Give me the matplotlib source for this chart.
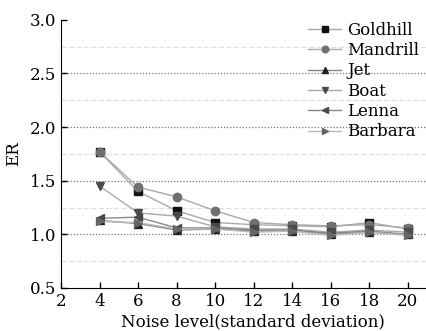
import matplotlib.pyplot as plt
import numpy as np

plt.rcParams['font.family'] = ['DejaVu Serif']

noise = [4, 6, 8, 10, 12, 14, 16, 18, 20]
goldhill = [1.77, 1.40, 1.22, 1.11, 1.09, 1.08, 1.07, 1.11, 1.05]
mandrill = [1.77, 1.44, 1.35, 1.22, 1.11, 1.09, 1.08, 1.09, 1.06]
jet = [1.13, 1.10, 1.04, 1.05, 1.03, 1.03, 1.00, 1.02, 1.00]
boat = [1.45, 1.20, 1.17, 1.07, 1.05, 1.05, 1.02, 1.04, 1.02]
lenna = [1.15, 1.16, 1.06, 1.06, 1.04, 1.04, 1.01, 1.03, 1.00]
barbara = [1.12, 1.11, 1.05, 1.05, 1.02, 1.03, 0.99, 1.02, 0.99]

series = [
    ('Goldhill', goldhill, 's', '#111111', '#aaaaaa'),
    ('Mandrill', mandrill, 'o', '#707070', '#aaaaaa'),
    ('Jet', jet, '^', '#222222', '#888888'),
    ('Boat', boat, 'v', '#4a4a4a', '#aaaaaa'),
    ('Lenna', lenna, '<', '#4a4a4a', '#888888'),
    ('Barbara', barbara, '>', '#666666', '#bbbbbb'),
]

fig = plt.figure(figsize=(4.27, 3.31), dpi=100)
ax = fig.add_axes([0.143, 0.130, 0.857, 0.810])

for yv in [0.75, 1.25, 1.75, 2.25, 2.75]:
    ax.axhline(yv, color='#e0e0e0', lw=0.9, ls=(0, (4, 2)), zorder=0)
for yv in [1.0, 1.5, 2.0, 2.5]:
    ax.axhline(yv, color='#777777', lw=0.9, ls=(0, (1, 1.5)), zorder=0)

for name, vals, mk, mc, lc in series:
    ax.plot(noise, vals, color=lc, lw=1.0, marker=mk, markersize=6,
            markerfacecolor=mc, markeredgecolor=mc, label=name)

ax.set_xlim(2, 21)
ax.set_ylim(0.5, 3.0)
ax.set_xticks(np.arange(2, 21, 2))
ax.set_yticks([0.5, 1.0, 1.5, 2.0, 2.5, 3.0])
ax.set_yticklabels(['0.5', '1.0', '1.5', '2.0', '2.5', '3.0'])
ax.tick_params(direction='in', labelsize=12, length=4, width=1, pad=3.5)
ax.spines['top'].set_visible(False)
ax.spines['right'].set_visible(False)
ax.set_xlabel('Noise level(standard deviation)', fontsize=12)
ax.xaxis.set_label_coords(0.523, -0.095)
ax.set_ylabel('ER', fontsize=12)
ax.yaxis.set_label_coords(-0.107, 0.5)

leg = ax.legend(loc='upper left', bbox_to_anchor=(0.657, 1.018), frameon=False,
                fontsize=12, handlelength=2.0, handletextpad=0.35,
                labelspacing=0.2, borderaxespad=0.0, markerscale=0.8)

fig.savefig('out.png', dpi=100)
